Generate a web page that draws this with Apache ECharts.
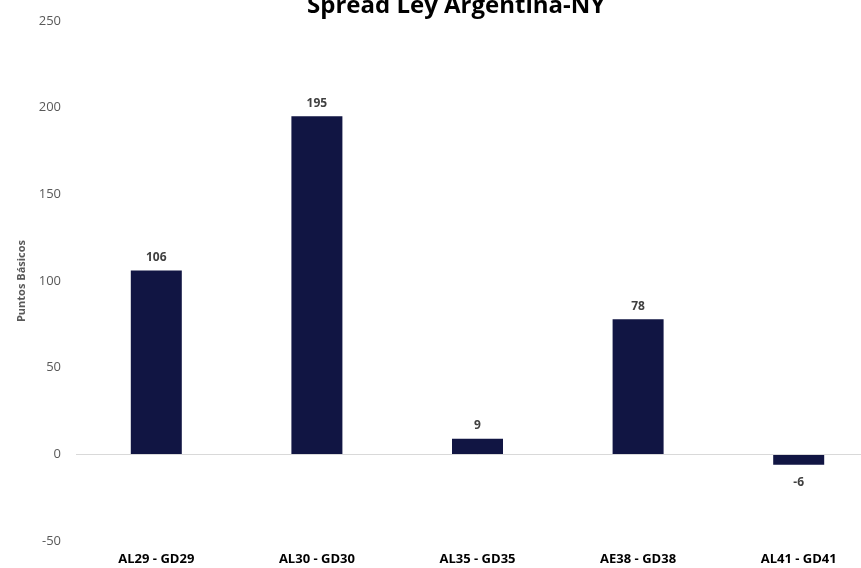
<!DOCTYPE html>
<html>
<head>
<meta charset="utf-8">
<script src="https://cdn.jsdelivr.net/npm/echarts@6/dist/echarts.min.js"></script>
<style>
  html, body { margin: 0; padding: 0; background: #fff; overflow: hidden; }
  /* el área de trazado sigue más allá del borde derecho de la ventana */
  #chart { width: 879px; height: 568px; }
</style>
</head>
<body>
<div id="chart"></div>
<script>
// datos del gráfico
const categorias = ['AL29 - GD29', 'AL30 - GD30', 'AL35 - GD35', 'AE38 - GD38', 'AL41 - GD41'];
const spreads = [106, 195, 9, 78, -6];
const ejeY = { min: -50, max: 250, intervalo: 50 };

const chart = echarts.init(document.getElementById('chart'));

// los negativos llevan la etiqueta debajo de la barra
const datosBarras = spreads.map(v => ({
    value: v,
    label: v < 0 ? { position: 'bottom', distance: 12 } : { position: 'top' }
}));

const option = {
    backgroundColor: '#ffffff',
    animation: false,
    title: {
        text: 'Spread Ley Argentina-NY',
        left: 302,
        top: -11,
        textStyle: {
            fontFamily: 'Open Sans',
            fontSize: 24,
            fontWeight: 'bold',
            color: '#000000'
        }
    },
    grid: {
        left: 76,
        right: 0,
        top: 21,
        height: 520
    },
    xAxis: {
        type: 'category',
        data: categorias,
        axisLine: { show: false, onZero: false },
        axisTick: { show: false },
        axisLabel: {
            margin: 12,
            fontFamily: 'Open Sans',
            fontSize: 13,
            fontWeight: 'bold',
            color: '#000000'
        }
    },
    yAxis: {
        type: 'value',
        min: ejeY.min,
        max: ejeY.max,
        interval: ejeY.intervalo,
        name: 'Puntos Básicos',
        nameLocation: 'middle',
        nameGap: 40,
        nameTextStyle: {
            fontFamily: 'Open Sans',
            fontSize: 11,
            fontWeight: 'bold',
            color: '#595959'
        },
        axisLine: { show: false },
        axisTick: { show: false },
        splitLine: { show: false },
        axisLabel: {
            margin: 15,
            fontFamily: 'Open Sans',
            fontSize: 13,
            color: '#595959'
        }
    },
    series: [{
        type: 'bar',
        data: datosBarras,
        barWidth: 51,
        itemStyle: { color: '#111543' },
        label: {
            show: true,
            distance: 7,
            fontFamily: 'Open Sans',
            fontSize: 12,
            fontWeight: 'bold',
            color: '#404040'
        },
        markLine: {
            silent: true,
            symbol: 'none',
            label: { show: false },
            lineStyle: { color: '#d9d9d9', width: 1, type: 'solid' },
            data: [{ yAxis: 0 }]
        }
    }]
};

chart.setOption(option);
</script>
</body>
</html>
